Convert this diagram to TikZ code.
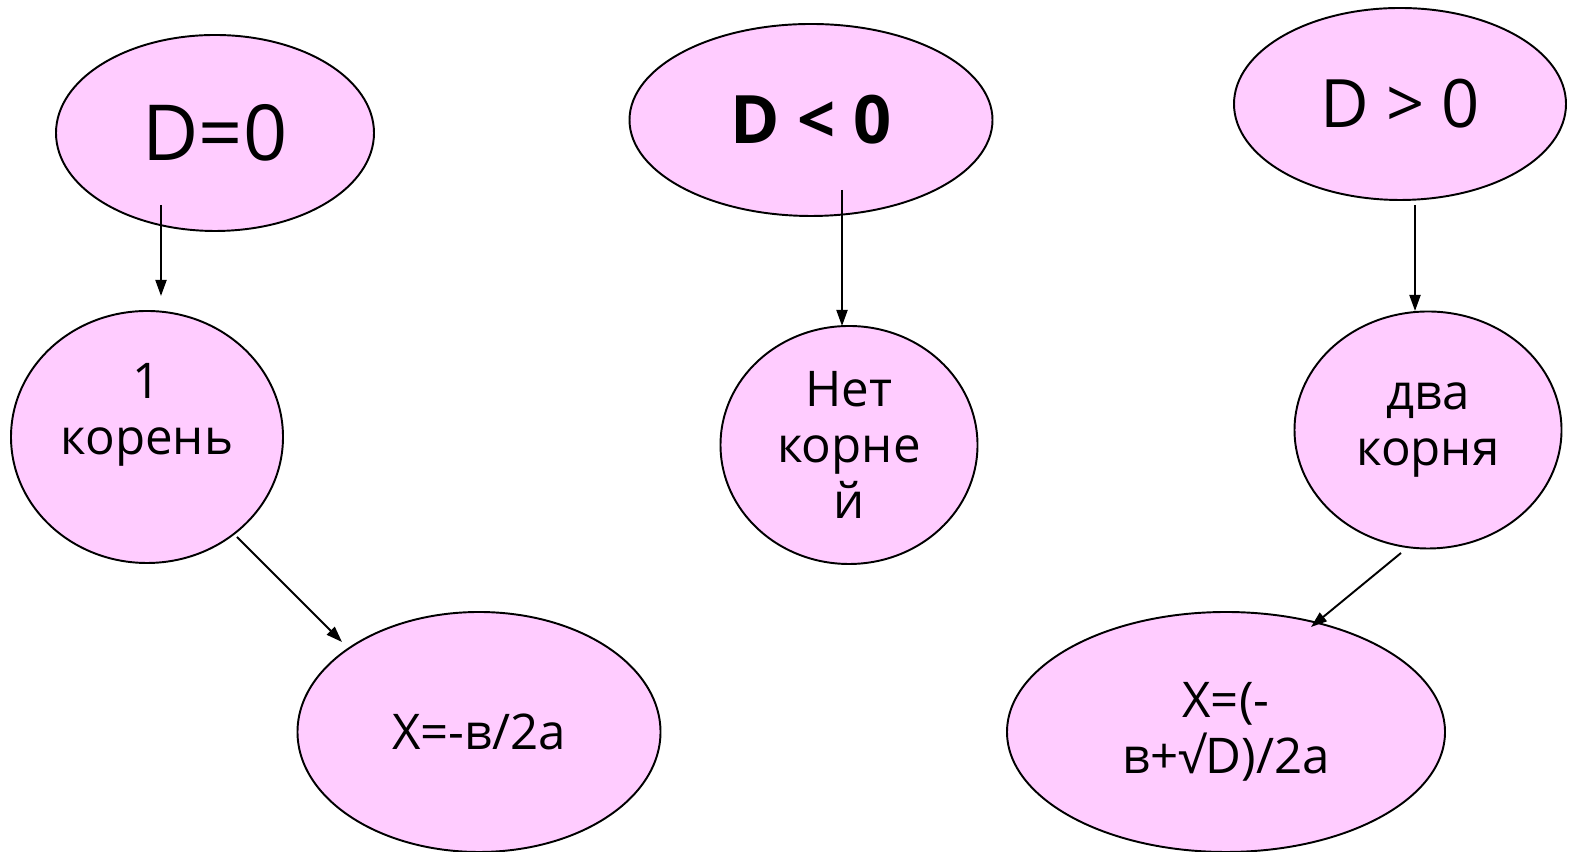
\documentclass[tikz,border=0pt]{standalone}
\usepackage{fontspec}
\setmainfont{Open Sans}
\usetikzlibrary{arrows.meta, shapes.geometric}

\definecolor{pinkfill}{HTML}{FFCCFF}

\tikzset{
  oval/.style={ellipse, draw=black, line width=1.1pt, fill=pinkfill,
    inner sep=0pt, align=center, font=\fontsize{28}{32}\selectfont},
  link/.style={-{Triangle[length=0.32cm, width=0.22cm]}, line width=1.1pt}
}

\begin{document}
\begin{tikzpicture}
  \useasboundingbox (0,0) rectangle (31.38,17.04);

  % Conditions
  \node[oval, minimum width=6.36cm, minimum height=3.92cm,
    font=\fontsize{44}{48}\selectfont] (d0) at (4.30,14.38) {D=0};
  \node[oval, minimum width=7.26cm, minimum height=3.84cm,
    font=\fontsize{38}{42}\selectfont\bfseries] (dneg) at (16.22,14.64) {D < 0};
  \node[oval, minimum width=6.64cm, minimum height=3.84cm,
    font=\fontsize{38}{42}\selectfont] (dpos) at (28.00,14.96) {D > 0};

  % Number of roots
  \node[oval, minimum width=5.44cm, minimum height=5.04cm] (one) at (2.94,8.30) {1\\корень\\\mbox{}};
  \node[oval, minimum width=5.14cm, minimum height=4.76cm] (none) at (16.98,8.14) {Нет\\корне\\й};
  \node[oval, minimum width=5.34cm, minimum height=4.74cm] (two) at (28.56,8.44) {два\\корня};

  % Formulas
  \node[oval, minimum width=7.26cm, minimum height=4.80cm] (xone) at (9.58,2.40) {X=-в/2а};
  \node[oval, minimum width=8.76cm, minimum height=4.80cm] (xtwo) at (24.52,2.40) {X=(-\\в+√D)/2а};

  % Arrow ends
  \coordinate (d0-out) at (3.22,12.94);
  \coordinate (one-in) at (3.22,11.12);
  \coordinate (dneg-out) at (16.84,13.24);
  \coordinate (none-in) at (16.84,10.52);
  \coordinate (dpos-out) at (28.30,12.94);
  \coordinate (two-in) at (28.30,10.82);
  \coordinate (one-out) at (4.74,6.30);
  \coordinate (xone-in) at (6.84,4.20);
  \coordinate (two-out) at (28.02,5.98);
  \coordinate (xtwo-in) at (26.22,4.50);

  % Arrows
  \draw[link] (d0-out) -- (one-in);
  \draw[link] (dneg-out) -- (none-in);
  \draw[link] (dpos-out) -- (two-in);
  \draw[link] (one-out) -- (xone-in);
  \draw[link] (two-out) -- (xtwo-in);
\end{tikzpicture}
\end{document}
